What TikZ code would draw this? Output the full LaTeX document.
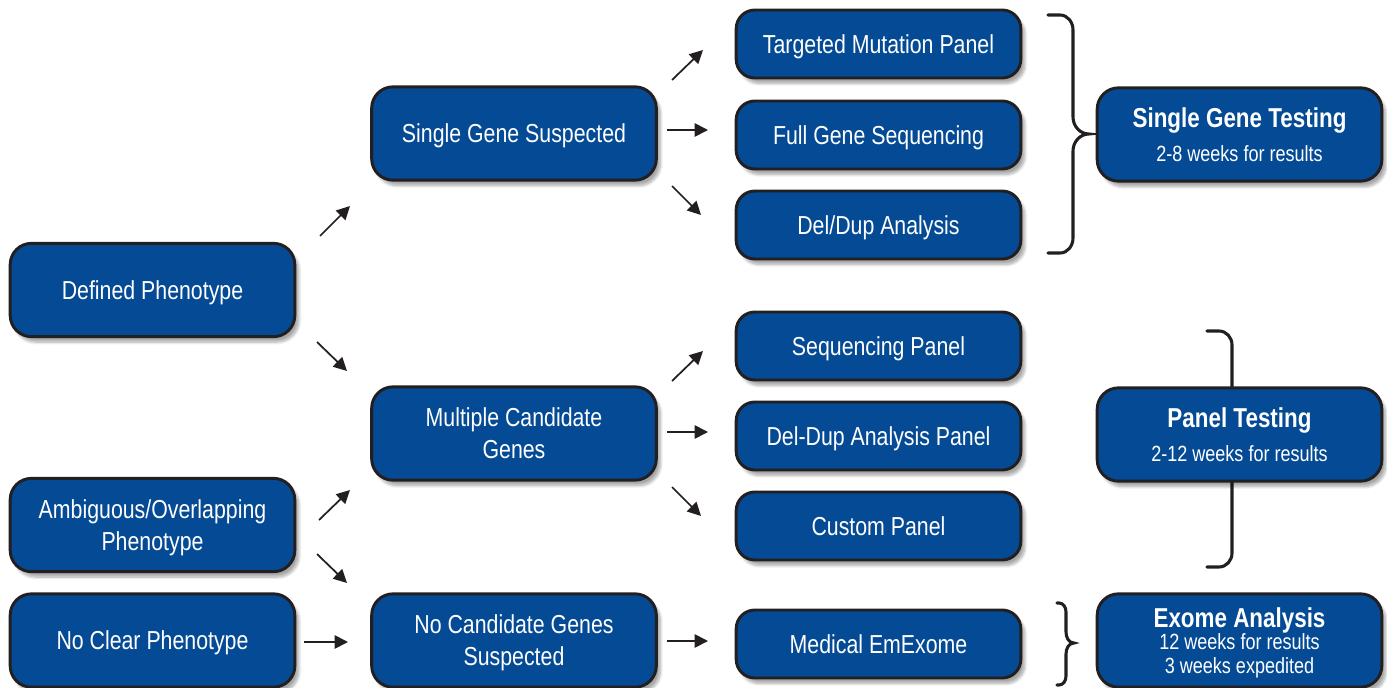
\documentclass[tikz,border=0pt]{standalone}
\usepackage{fontspec}
\setmainfont{Liberation Sans}[FakeStretch=0.82]
\usetikzlibrary{arrows.meta,shadows.blur}
\definecolor{boxblue}{RGB}{4,74,148}
\definecolor{edge}{RGB}{35,31,32}
\tikzset{
  box/.style={draw=edge, line width=2.2pt, fill=boxblue, rounded corners=16pt,
    text=white, align=center, font=\fontsize{19.5}{24}\selectfont,
    minimum width=213.5pt, inner sep=0pt, text depth=0pt,
    blur shadow={shadow xshift=3pt, shadow yshift=-4pt, shadow blur steps=8, shadow opacity=35}},
  big/.style={box, minimum height=70pt},
  small/.style={box, minimum height=51pt, rounded corners=14pt},
  arr/.style={line width=1.3pt, draw=edge, -{Triangle[length=10pt,width=10pt]}},
  brace/.style={line width=2.3pt, draw=edge, line cap=round, rounded corners=0pt},
}
\newcommand{\ttl}[1]{{\bfseries\fontsize{20.5}{22}\selectfont #1}}
\newcommand{\sub}[1]{{\fontsize{16.5}{19}\selectfont #1}}
\begin{document}
\begin{tikzpicture}[x=0.75pt,y=-0.75pt]
\useasboundingbox (0,0) rectangle (1387,688);
% braces
\draw[brace] (1048,15) -- (1060,15) to[out=0,in=90] (1073,30) -- (1073,117)
  to[out=-90,in=180] (1089,134) to[out=180,in=90] (1073,151) -- (1073,238)
  to[out=-90,in=0] (1060,253) -- (1048,253);
\draw[brace] (1207,331) -- (1219,331) to[out=0,in=90] (1232,345) -- (1232,415)
  to[out=-90,in=180] (1250,433) to[out=180,in=90] (1232,451) -- (1232,553)
  to[out=-90,in=0] (1219,567) -- (1207,567);
\draw[brace] (1057,603) -- (1059,603) to[out=0,in=90] (1066,612) -- (1066,632)
  to[out=-90,in=180] (1074,643) to[out=180,in=90] (1066,654) -- (1066,676)
  to[out=-90,in=0] (1059,685) -- (1057,685);
% column 1
\node[big] (def) at (152.5,290) {Defined Phenotype};
\node[big] (amb) at (152.5,525) {Ambiguous/Overlapping\\Phenotype};
\node[big] (ncp) at (152.5,640.5) {No Clear Phenotype};
% column 2
\node[big] (sgs) at (514,133.5) {Single Gene Suspected};
\node[big] (mcg) at (514,433.5) {Multiple Candidate\\Genes};
\node[big] (ncg) at (514,640.5) {No Candidate Genes\\Suspected};
% column 3
\node[small] (tmp) at (878.5,44) {Targeted Mutation Panel};
\node[small] (fgs) at (878.5,135) {Full Gene Sequencing};
\node[small] (dda) at (878.5,225) {Del/Dup Analysis};
\node[small] (sqp) at (878.5,346) {Sequencing Panel};
\node[small] (ddp) at (878.5,436) {Del-Dup Analysis Panel};
\node[small] (cup) at (878.5,526) {Custom Panel};
\node[small] (mee) at (878.5,644) {Medical EmExome};
% column 4
\node[big] (sgt) at (1239.5,134.5) {\ttl{Single Gene Testing}\\[1pt]\sub{2-8 weeks for results}};
\node[big] (pnt) at (1239.5,434.5) {\ttl{Panel Testing}\\[1pt]\sub{2-12 weeks for results}};
\node[big, font=\fontsize{16.5}{17.5}\selectfont] (exa) at (1239.5,640.5) {\ttl{Exome Analysis}\\[-1pt]12 weeks for results\\3 weeks expedited};
% arrow end points
\coordinate (a1s) at (320,236); \coordinate (a1e) at (350,206);
\coordinate (a2s) at (317,342); \coordinate (a2e) at (347,371);
\coordinate (a3s) at (319,520); \coordinate (a3e) at (350,490);
\coordinate (a4s) at (317,554); \coordinate (a4e) at (347,583);
\coordinate (a5s) at (304,642); \coordinate (a5e) at (348,642);
\coordinate (b1s) at (672,80);  \coordinate (b1e) at (703,50);
\coordinate (b2s) at (667,130); \coordinate (b2e) at (708,130);
\coordinate (b3s) at (672,186); \coordinate (b3e) at (701,215);
\coordinate (c1s) at (672,381); \coordinate (c1e) at (703,351);
\coordinate (c2s) at (667,432); \coordinate (c2e) at (708,432);
\coordinate (c3s) at (672,487); \coordinate (c3e) at (701,516);
\coordinate (d1s) at (667,641); \coordinate (d1e) at (708,641);
\foreach \p in {a1,a2,a3,a4,a5,b1,b2,b3,c1,c2,c3,d1}
  \draw[arr] (\p s) -- (\p e);
\end{tikzpicture}
\end{document}
